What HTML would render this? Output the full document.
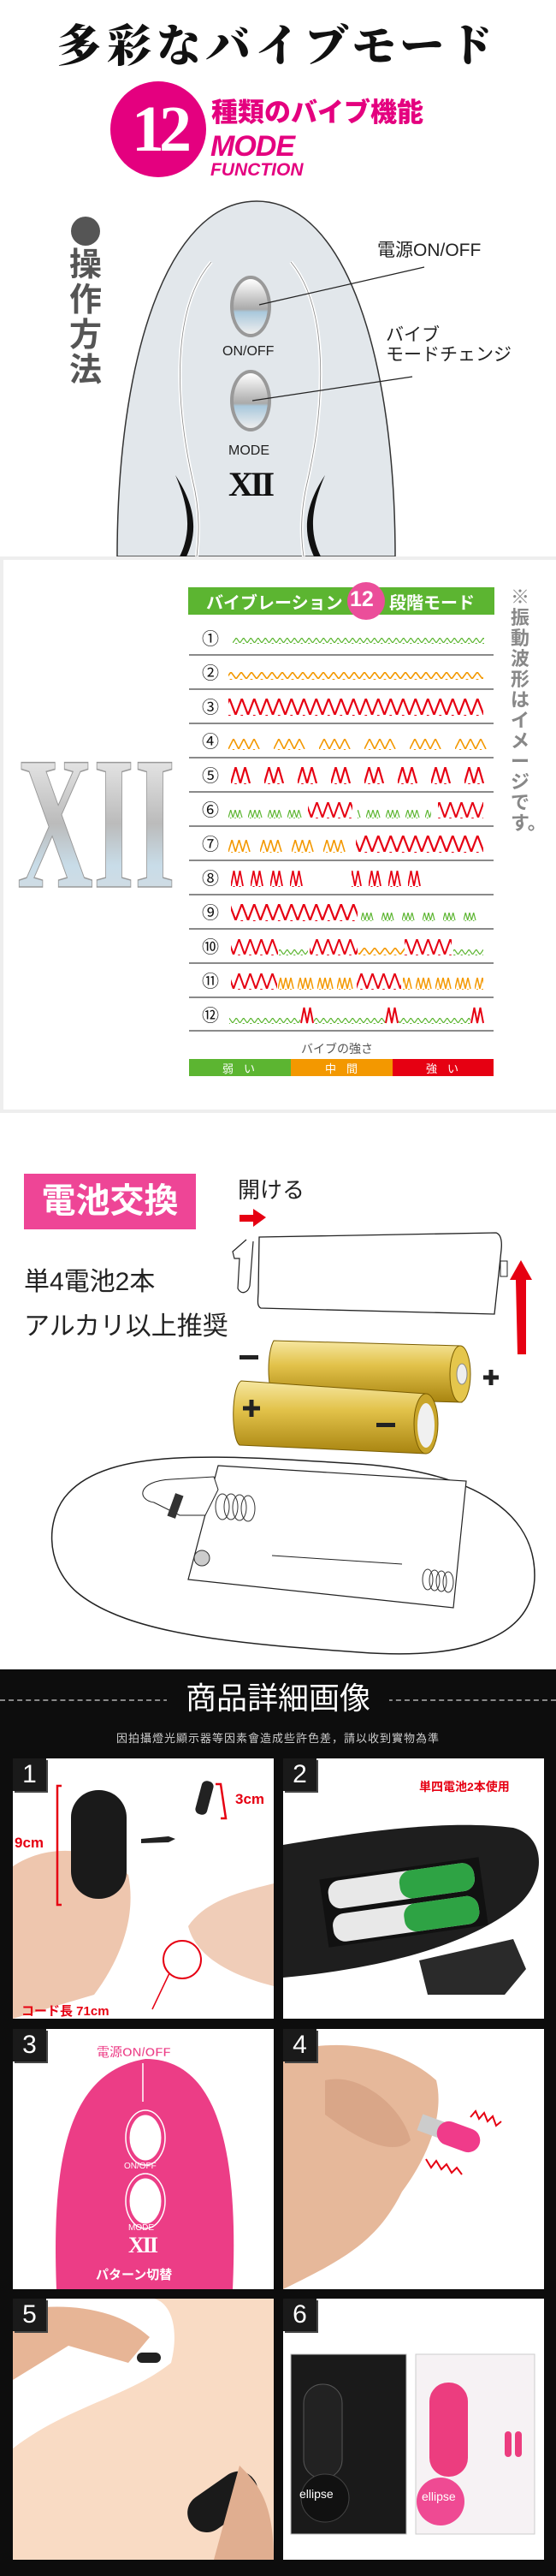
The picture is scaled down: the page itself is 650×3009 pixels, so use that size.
<!DOCTYPE html>
<html><head><meta charset="utf-8"><style>
*{margin:0;padding:0;box-sizing:border-box}
body{width:650px;height:3009px;position:relative;background:#fff;overflow:hidden;font-family:"Liberation Sans","Noto Sans CJK JP",sans-serif}
.a{position:absolute;white-space:nowrap}
svg{position:absolute;left:0}
.badge{position:absolute;width:39px;height:38px;background:#1a1a1a;color:#fff;font-size:30px;line-height:38px;text-align:center;box-shadow:2px 2px 0 #444}
</style></head><body>

<!-- SECTION 1 -->
<svg style="top:0" width="650" height="650">
 <circle cx="185" cy="151" r="56" fill="#e4007f"/>
 <path d="M137,650 C137,420 195,235 300,235 C405,235 462,420 462,650 Z" fill="#e2e7eb" stroke="#333" stroke-width="1.5"/>
 <path d="M247,306 C200,360 205,470 225,560 C235,600 232,630 230,650" fill="none" stroke="#fff" stroke-width="4"/>
 <path d="M247,306 C200,360 205,470 225,560 C235,600 232,630 230,650" fill="none" stroke="#888" stroke-width="0.8"/>
 <path d="M340,306 C385,360 380,470 360,560 C350,600 352,630 355,650" fill="none" stroke="#fff" stroke-width="4"/>
 <path d="M340,306 C385,360 380,470 360,560 C350,600 352,630 355,650" fill="none" stroke="#888" stroke-width="0.8"/>
 <path d="M205,555 C220,590 225,620 210,650 L218,650 C232,620 228,590 205,555Z" fill="#111"/>
 <path d="M380,555 C365,590 360,620 375,650 L367,650 C353,620 357,590 380,555Z" fill="#111"/>
 <defs><linearGradient id="btn" x1="0" y1="0" x2="0" y2="1"><stop offset="0" stop-color="#fff"/><stop offset="0.55" stop-color="#aaa"/><stop offset="0.6" stop-color="#a9c8dc"/><stop offset="1" stop-color="#eee"/></linearGradient></defs>
 <ellipse cx="293" cy="358" rx="24" ry="36" fill="#999"/><ellipse cx="293" cy="358" rx="20" ry="32" fill="url(#btn)"/>
 <ellipse cx="293" cy="468" rx="24" ry="36" fill="#999"/><ellipse cx="293" cy="468" rx="20" ry="32" fill="url(#btn)"/>
 <line x1="303" y1="356" x2="496" y2="312" stroke="#222" stroke-width="1.2"/>
 <line x1="295" y1="468" x2="482" y2="440" stroke="#222" stroke-width="1.2"/>
 <circle cx="100" cy="270" r="17" fill="#555"/>
</svg>
<div class="a" style="left:0;width:650px;text-align:center;top:12px;font-family:'Liberation Serif','Noto Serif CJK JP',serif;font-weight:900;font-size:52px;letter-spacing:6px;color:#111">多彩なバイブモード</div>
<div class="a" style="left:141px;top:108px;width:90px;text-align:center;font-family:'Liberation Serif',serif;font-weight:bold;font-size:76px;color:#fff;letter-spacing:-6px">12</div>
<div class="a" style="left:247px;top:106px;font-size:31px;font-weight:900;color:#e4007f">種類のバイブ機能</div>
<div class="a" style="left:246px;top:152px;font-size:34px;font-weight:bold;font-style:italic;color:#e4007f;letter-spacing:-1px">MODE</div>
<div class="a" style="left:246px;top:187px;font-size:21px;font-weight:bold;font-style:italic;color:#e4007f">FUNCTION</div>
<div class="a" style="left:81px;top:290px;width:40px;font-size:38px;font-weight:bold;color:#555;line-height:41px;white-space:normal">操作方法</div>
<div class="a" style="left:260px;top:402px;font-size:16px;color:#222">ON/OFF</div>
<div class="a" style="left:267px;top:518px;font-size:16px;color:#222">MODE</div>
<div class="a" style="left:267px;top:542px;font-family:'Liberation Serif',serif;font-weight:bold;font-size:40px;color:#111;letter-spacing:-3px">XII</div>
<div class="a" style="left:441px;top:276px;font-size:21px;color:#222">電源ON/OFF</div>
<div class="a" style="left:451px;top:380px;font-size:21px;color:#222;line-height:23px">バイブ<br>モードチェンジ</div>

<!-- SECTION 2 -->
<div class="a" style="left:0;top:650px;width:650px;height:650px;border:4px solid #eee;border-right:none"></div>
<div class="a" style="left:220px;top:686px;width:358px;height:32px;background:#5cb531"></div>
<svg style="top:650px" width="650" height="650">
 <defs>
  <linearGradient id="sil" x1="0" y1="0" x2="0" y2="1"><stop offset="0" stop-color="#fff"/><stop offset="0.5" stop-color="#bbb"/><stop offset="0.7" stop-color="#c8dce8"/><stop offset="1" stop-color="#ddd"/></linearGradient>
  <pattern id="g1" width="8.5" height="6" y="-6" patternUnits="userSpaceOnUse"><polyline points="0,6 4.25,0 8.5,6" fill="none" stroke="#5cb531" stroke-width="1.2"/></pattern>
  <pattern id="o2" width="12" height="8" y="-8" patternUnits="userSpaceOnUse"><polyline points="0,8 6,0 12,8" fill="none" stroke="#f39800" stroke-width="1.6"/></pattern>
  <pattern id="rb" width="14.5" height="19" y="-19" patternUnits="userSpaceOnUse"><polyline points="0,19 7.25,0 14.5,19" fill="none" stroke="#e60012" stroke-width="2.2"/></pattern>
  <pattern id="rm" width="13" height="18" y="-18" patternUnits="userSpaceOnUse"><polyline points="0,18 6.5,0 13,18" fill="none" stroke="#e60012" stroke-width="2"/></pattern>
  <pattern id="o4" x="267" width="53" height="12" y="-12" patternUnits="userSpaceOnUse"><polyline points="0,12 6,0 12,12 18,0 24,12 30,0 36,12" fill="none" stroke="#f39800" stroke-width="1.6"/></pattern>
  <pattern id="r5" x="270" width="39" height="19" y="-19" patternUnits="userSpaceOnUse"><polyline points="0,19 5.5,0 11,19 16.5,0 22,19" fill="none" stroke="#e60012" stroke-width="2.2"/></pattern>
  <pattern id="g6" x="267" width="23" height="9" y="-9" patternUnits="userSpaceOnUse"><polyline points="0,9 2.7,0 5.3,9 8,0 10.7,9 13.3,0 16,9" fill="none" stroke="#5cb531" stroke-width="1.2"/></pattern>
  <pattern id="o7" x="267" width="37" height="14" y="-14" patternUnits="userSpaceOnUse"><polyline points="0,14 4.2,0 8.3,14 12.5,0 16.7,14 20.8,0 25,14" fill="none" stroke="#f39800" stroke-width="1.6"/></pattern>
  <pattern id="r8" x="270" width="23" height="18" y="-18" patternUnits="userSpaceOnUse"><polyline points="0,18 3.5,0 7,18 10.5,0 14,18" fill="none" stroke="#e60012" stroke-width="1.8"/></pattern>
  <pattern id="g9" x="422" width="24" height="9" y="-9" patternUnits="userSpaceOnUse"><polyline points="0,9 2.3,0 4.7,9 7,0 9.3,9 11.7,0 14,9" fill="none" stroke="#5cb531" stroke-width="1.2"/></pattern>
  <pattern id="oc" x="325" width="23" height="13" y="-13" patternUnits="userSpaceOnUse"><polyline points="0,13 3,0 6,13 9,0 12,13 15,0 18,13" fill="none" stroke="#f39800" stroke-width="1.5"/></pattern>
 </defs>
 <text x="20" y="386" font-family="Liberation Serif,serif" font-weight="bold" font-size="222" fill="url(#sil)" stroke="#999" stroke-width="1.5" textLength="185" lengthAdjust="spacingAndGlyphs">XII</text>
 <circle cx="428" cy="52" r="22" fill="#eb4e9a"/>
 <g stroke="#444" stroke-width="1.3">
  <line x1="221" y1="115" x2="577" y2="115"/><line x1="221" y1="155" x2="577" y2="155"/><line x1="221" y1="195" x2="577" y2="195"/><line x1="221" y1="235" x2="577" y2="235"/><line x1="221" y1="275" x2="577" y2="275"/><line x1="221" y1="315" x2="577" y2="315"/><line x1="221" y1="355" x2="577" y2="355"/><line x1="221" y1="395" x2="577" y2="395"/><line x1="221" y1="435" x2="577" y2="435"/><line x1="221" y1="475" x2="577" y2="475"/><line x1="221" y1="515" x2="577" y2="515"/><line x1="221" y1="554" x2="577" y2="554"/>
 </g>
 <g font-size="20" fill="#111" text-anchor="middle"><text x="246" y="103">①</text><text x="246" y="143">②</text><text x="246" y="183">③</text><text x="246" y="223">④</text><text x="246" y="263">⑤</text><text x="246" y="303">⑥</text><text x="246" y="343">⑦</text><text x="246" y="383">⑧</text><text x="246" y="423">⑨</text><text x="246" y="463">⑩</text><text x="246" y="503">⑪</text><text x="246" y="543">⑫</text></g>
 <g transform="translate(0,101)"><rect x="272" y="-6" width="294" height="7" fill="url(#g1)"/></g>
 <g transform="translate(0,143)"><rect x="267" y="-8" width="298" height="9" fill="url(#o2)"/></g>
 <g transform="translate(0,185)"><rect x="267" y="-19" width="298" height="20" fill="url(#rb)"/></g>
 <g transform="translate(0,225)"><rect x="267" y="-12" width="302" height="13" fill="url(#o4)"/></g>
 <g transform="translate(0,265)"><rect x="270" y="-19" width="296" height="20" fill="url(#r5)"/></g>
 <g transform="translate(0,305)"><rect x="267" y="-9" width="86" height="10" fill="url(#g6)"/><rect x="360" y="-18" width="52" height="19" fill="url(#rm)"/><rect x="418" y="-9" width="86" height="10" fill="url(#g6)"/><rect x="512" y="-18" width="53" height="19" fill="url(#rm)"/></g>
 <g transform="translate(0,345)"><rect x="267" y="-14" width="140" height="15" fill="url(#o7)"/><rect x="416" y="-19" width="149" height="20" fill="url(#rb)"/></g>
 <g transform="translate(0,385)"><rect x="270" y="-18" width="85" height="19" fill="url(#r8)"/><rect x="411" y="-18" width="85" height="19" fill="url(#r8)"/></g>
 <g transform="translate(0,425)"><rect x="270" y="-19" width="148" height="20" fill="url(#rb)"/><rect x="422" y="-9" width="143" height="10" fill="url(#g9)"/></g>
 <g transform="translate(0,465)"><rect x="270" y="-18" width="55" height="19" fill="url(#rm)"/><rect x="326" y="-6" width="34" height="7" fill="url(#g1)"/><rect x="362" y="-18" width="56" height="19" fill="url(#rm)"/><rect x="419" y="-8" width="54" height="9" fill="url(#o2)"/><rect x="473" y="-18" width="55" height="19" fill="url(#rm)"/><rect x="530" y="-6" width="35" height="7" fill="url(#g1)"/></g>
 <g transform="translate(0,505)"><rect x="270" y="-18" width="54" height="19" fill="url(#rm)"/><rect x="325" y="-13" width="88" height="14" fill="url(#oc)"/><rect x="417" y="-18" width="52" height="19" fill="url(#rm)"/><rect x="471" y="-13" width="94" height="14" fill="url(#oc)"/></g>
 <g transform="translate(0,545)"><rect x="268" y="-6" width="83" height="7" fill="url(#g1)"/><polyline points="352,0 355.5,-18 359,0 362.5,-18 366,0" fill="none" stroke="#e60012" stroke-width="2"/><rect x="367" y="-6" width="84" height="7" fill="url(#g1)"/><polyline points="451,0 454.5,-18 458,0 461.5,-18 465,0" fill="none" stroke="#e60012" stroke-width="2"/><rect x="466" y="-6" width="84" height="7" fill="url(#g1)"/><polyline points="551,0 554.5,-18 558,0 561.5,-18 565,0" fill="none" stroke="#e60012" stroke-width="2"/></g>
 <rect x="221" y="587" width="119" height="20" fill="#5cb531"/><rect x="340" y="587" width="119" height="20" fill="#f39800"/><rect x="459" y="587" width="118" height="20" fill="#e60012"/>
</svg>
<div class="a" style="left:241px;top:688px;font-size:20px;font-weight:bold;color:#fff">バイブレーション</div>
<div class="a" style="left:409px;top:686px;font-size:25px;font-weight:bold;color:#fff">12</div>
<div class="a" style="left:455px;top:688px;font-size:20px;font-weight:bold;color:#fff">段階モード</div>
<div class="a" style="left:352px;top:1215px;font-size:14px;color:#555">バイブの強さ</div>
<div class="a" style="left:260px;top:1238px;font-size:13px;color:#fff;letter-spacing:12px">弱い</div>
<div class="a" style="left:380px;top:1238px;font-size:13px;color:#fff;letter-spacing:12px">中間</div>
<div class="a" style="left:498px;top:1238px;font-size:13px;color:#fff;letter-spacing:12px">強い</div>
<div class="a" style="left:597px;top:686px;width:24px;font-size:22px;line-height:24px;color:#888;font-weight:bold;white-space:normal">※振動波形はイメージです。</div>

<!-- SECTION 3 -->
<div class="a" style="left:28px;top:1371px;width:201px;height:65px;background:#ee4596;color:#fff;font-size:40px;font-weight:bold;line-height:65px;text-align:center">電池交換</div>
<div class="a" style="left:278px;top:1370px;font-size:26px;color:#222">開ける</div>
<div class="a" style="left:28px;top:1472px;font-size:30px;color:#222">単4電池2本</div>
<div class="a" style="left:28px;top:1524px;font-size:30px;color:#222">アルカリ以上推奨</div>
<svg style="top:1300px" width="650" height="650">
 <defs><linearGradient id="gold" x1="0" y1="0" x2="0" y2="1"><stop offset="0" stop-color="#f6e7a0"/><stop offset="0.4" stop-color="#e2c24a"/><stop offset="1" stop-color="#a88410"/></linearGradient></defs>
 <polygon points="280,119 296,119 296,112 311,122 296,133 296,127 280,127" fill="#e60012"/>
 <polygon points="605,282 615,282 615,195 622,195 609,172 596,195 603,195" fill="#e60012"/>
 <path d="M303,145 L580,140 C586,142 587,150 586,160 L578,235 L305,228 C301,226 301,222 302,210 Z" fill="#fff" stroke="#222" stroke-width="1.3"/>
 <path d="M288,148 L272,162 L274,170 L280,170 L278,205 C282,213 290,210 292,202 L296,150" fill="none" stroke="#222" stroke-width="1.2"/>
 <rect x="585" y="173" width="8" height="18" fill="#fff" stroke="#222"/>
 <path d="M320,266 L538,272 C548,276 550,320 540,338 L320,332 C312,320 312,280 320,266Z" fill="url(#gold)" stroke="#7a5d00"/>
 <ellipse cx="538" cy="305" rx="12" ry="33" fill="#e5c64c" stroke="#7a5d00"/><ellipse cx="540" cy="305" rx="6" ry="12" fill="#eee" stroke="#888"/>
 <path d="M282,313 L498,328 C510,335 510,390 498,398 L280,388 C270,380 270,320 282,313Z" fill="url(#gold)" stroke="#7a5d00"/>
 <ellipse cx="498" cy="363" rx="14" ry="35" fill="#c9a52a" stroke="#7a5d00"/><ellipse cx="498" cy="365" rx="10" ry="26" fill="#f0f0f0"/>
 <rect x="280" y="283" width="22" height="5" fill="#222"/>
 <path d="M565,309 h18 M574,300 v18" stroke="#222" stroke-width="5"/>
 <path d="M284,345 h20 M294,335 v20" stroke="#222" stroke-width="5"/>
 <rect x="440" y="362" width="22" height="5" fill="#222"/>
 <path d="M80,444 C130,390 260,400 420,410 C560,420 625,470 625,540 C625,610 550,640 420,630 C280,620 150,610 90,560 C50,525 55,470 80,444Z" fill="#fff" stroke="#222" stroke-width="1.5"/>
 <path d="M255,412 L545,430 L530,578 L220,545 Z" fill="#fff" stroke="#222" stroke-width="1.2"/>
 <path d="M200,428 L250,425 L255,440 L240,470 L210,470 L180,455 C160,452 160,430 200,428Z" fill="#fff" stroke="#222"/>
 <rect x="200" y="445" width="10" height="28" fill="#333" transform="rotate(20 205 459)"/>
 <g fill="none" stroke="#333"><ellipse cx="260" cy="460" rx="8" ry="15"/><ellipse cx="270" cy="460" rx="8" ry="15"/><ellipse cx="280" cy="461" rx="8" ry="15"/><ellipse cx="290" cy="462" rx="8" ry="15"/>
 <ellipse cx="500" cy="545" rx="6" ry="12"/><ellipse cx="508" cy="546" rx="6" ry="12"/><ellipse cx="516" cy="547" rx="6" ry="12"/><ellipse cx="524" cy="548" rx="6" ry="12"/></g>
 <circle cx="236" cy="520" r="9" fill="#ccc" stroke="#333"/>
 <line x1="318" y1="517" x2="470" y2="527" stroke="#222"/>
</svg>

<!-- SECTION 4 -->
<div class="a" style="left:0;top:1950px;width:650px;height:1059px;background:#0d0d0d"></div>
<div class="a" style="left:0;top:1985px;width:650px;height:1px;border-top:2px dashed #888"></div>
<div class="a" style="left:195px;top:1962px;width:260px;background:#0d0d0d;text-align:center;color:#fff;font-size:36px;line-height:44px">商品詳細画像</div>
<div class="a" style="left:0;width:650px;text-align:center;top:2020px;font-size:13px;color:#ccc;letter-spacing:1px">因拍攝燈光顯示器等因素會造成些許色差，請以收到實物為準</div>

<svg style="top:0" width="650" height="3009">
 <rect x="15" y="2054" width="305" height="304" fill="#fff"/>
 <path d="M15,2180 C60,2150 120,2160 150,2190 C160,2240 140,2290 110,2330 L15,2358Z" fill="#eec6ae"/>
 <path d="M320,2200 C280,2210 240,2220 220,2250 C230,2290 280,2310 320,2320Z" fill="#f0cdb8"/>
 <rect x="83" y="2091" width="65" height="127" rx="32" fill="#1a1a1a"/>
 <path d="M165,2148 l32,-3 l8,3 l-8,4 l-32,1z" fill="#222"/><rect x="232" y="2080" width="14" height="40" rx="6" fill="#222" transform="rotate(15 239 2100)"/>
 <path d="M72,2086 h-5 v139 h5" fill="none" stroke="#e60012" stroke-width="2.5"/>
 <path d="M252,2084 h6 l6,40 h-6" fill="none" stroke="#e60012" stroke-width="2.5"/>
 <circle cx="213" cy="2289" r="22" fill="none" stroke="#e60012" stroke-width="2"/>
 <line x1="178" y1="2347" x2="198" y2="2305" stroke="#e60012" stroke-width="1.5"/>
 <rect x="331" y="2054" width="305" height="304" fill="#fff"/>
 <path d="M331,2155 C420,2140 520,2125 600,2135 C640,2145 640,2200 600,2230 C540,2275 440,2300 331,2310Z" fill="#1e1e1e"/>
 <path d="M490,2290 L600,2265 L615,2300 L590,2330 L500,2330Z" fill="#2a2a2a"/>
 <rect x="378" y="2182" width="188" height="80" fill="#111" transform="rotate(-8 472 2222)"/>
 <g transform="rotate(-8 472 2222)"><rect x="386" y="2186" width="172" height="33" rx="14" fill="#e8e8e8"/><rect x="470" y="2186" width="88" height="33" rx="14" fill="#2ea344"/><rect x="386" y="2225" width="172" height="33" rx="14" fill="#e8e8e8"/><rect x="470" y="2225" width="88" height="33" rx="14" fill="#2ea344"/></g>
 <rect x="15" y="2370" width="305" height="304" fill="#fff"/>
 <path d="M66,2674 C60,2520 80,2420 170,2405 C250,2405 280,2500 272,2674Z" fill="#ec3d86"/>
 <line x1="167" y1="2410" x2="167" y2="2455" stroke="#fff" stroke-width="1.5"/>
 <ellipse cx="170" cy="2497" rx="20" ry="28" fill="#fff" stroke="#ec3d86" stroke-width="3"/><ellipse cx="170" cy="2497" rx="23" ry="32" fill="none" stroke="#fff" stroke-width="1.5"/>
 <ellipse cx="170" cy="2571" rx="20" ry="28" fill="#fff" stroke="#ec3d86" stroke-width="3"/><ellipse cx="170" cy="2571" rx="23" ry="32" fill="none" stroke="#fff" stroke-width="1.5"/>
 <rect x="331" y="2370" width="305" height="304" fill="#fff"/>
 <path d="M331,2400 C380,2380 460,2385 510,2430 C520,2470 500,2520 470,2560 C440,2620 400,2640 331,2674Z" fill="#e6b89a"/>
 <path d="M380,2430 C420,2420 470,2460 480,2500 C460,2520 420,2500 380,2470Z" fill="#d9a688"/>
 <rect x="490" y="2474" width="30" height="20" fill="#ccc" transform="rotate(20 505 2484)"/>
 <rect x="510" y="2482" width="52" height="28" rx="14" fill="#f03b8a" transform="rotate(20 536 2496)"/>
 <polyline points="550,2473 556,2466 560,2475 566,2468 570,2478 576,2472 580,2483 586,2478" fill="none" stroke="#e60012" stroke-width="2"/>
 <polyline points="498,2522 504,2532 510,2524 516,2534 522,2528 528,2538 534,2532 540,2540" fill="none" stroke="#e60012" stroke-width="2"/>
 <rect x="15" y="2685" width="305" height="305" fill="#f9dbc4"/>
 <path d="M15,2685 L180,2685 C200,2690 210,2720 200,2760 C150,2800 80,2810 15,2860Z" fill="#fff"/>
 <path d="M15,2700 C60,2690 130,2690 175,2730 L150,2760 L80,2740 L15,2780Z" fill="#e7b596"/>
 <rect x="215" y="2900" width="90" height="45" rx="22" fill="#1a1a1a" transform="rotate(-35 260 2922)"/>
 <path d="M280,2880 C300,2900 320,2920 320,2990 L250,2990Z" fill="#e0ae90"/>
 <rect x="160" y="2748" width="28" height="12" rx="6" fill="#222"/>
 <rect x="331" y="2685" width="305" height="305" fill="#fff"/>
 <rect x="340" y="2750" width="135" height="210" fill="#1a1a1a" stroke="#bbb"/>
 <rect x="355" y="2785" width="45" height="110" rx="22" fill="#222" stroke="#555"/>
 <circle cx="380" cy="2918" r="28" fill="#111" stroke="#444"/>
 <rect x="486" y="2750" width="139" height="210" fill="#f6f2f4" stroke="#ccc"/>
 <rect x="502" y="2783" width="45" height="110" rx="22" fill="#ec3d7f"/>
 <circle cx="515" cy="2922" r="28" fill="#ef4a93"/>
 <rect x="590" y="2840" width="8" height="30" rx="4" fill="#ec3d7f"/><rect x="602" y="2840" width="8" height="30" rx="4" fill="#ec3d7f"/>
</svg>
<div class="badge" style="left:15px;top:2054px">1</div>
<div class="badge" style="left:331px;top:2054px">2</div>
<div class="badge" style="left:15px;top:2370px">3</div>
<div class="badge" style="left:331px;top:2370px">4</div>
<div class="badge" style="left:15px;top:2685px">5</div>
<div class="badge" style="left:331px;top:2685px">6</div>
<div class="a" style="left:17px;top:2143px;font-size:17px;font-weight:bold;color:#e60012">9cm</div>
<div class="a" style="left:275px;top:2092px;font-size:17px;font-weight:bold;color:#e60012">3cm</div>
<div class="a" style="left:25px;top:2338px;font-size:15px;font-weight:bold;color:#e60012">コード長 71cm</div>
<div class="a" style="left:490px;top:2077px;font-size:14px;font-weight:bold;color:#e60012">単四電池2本使用</div>
<div class="a" style="left:113px;top:2386px;font-size:15px;font-weight:bold;color:#ec3d86;-webkit-text-stroke:0.5px #fff">電源ON/OFF</div>
<div class="a" style="left:145px;top:2525px;font-size:10px;color:#fff">ON/OFF</div>
<div class="a" style="left:150px;top:2597px;font-size:10px;color:#fff">MODE</div>
<div class="a" style="left:150px;top:2608px;font-family:'Liberation Serif',serif;font-weight:bold;font-size:26px;color:#fff;letter-spacing:-2px">XII</div>
<div class="a" style="left:112px;top:2646px;font-size:15px;font-weight:bold;color:#fff">パターン切替</div>
<div class="a" style="left:350px;top:2905px;font-size:14px;color:#fff">ellipse</div>
<div class="a" style="left:493px;top:2908px;font-size:14px;color:#fff">ellipse</div>
</body></html>
